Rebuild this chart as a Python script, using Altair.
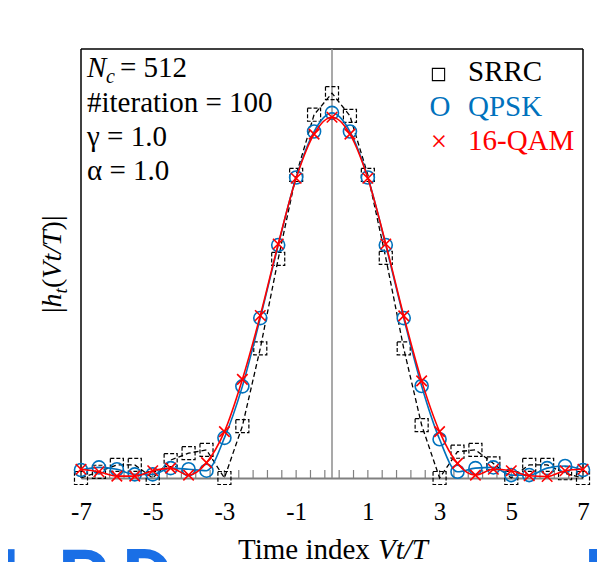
import altair as alt
import pandas as pd

SERIF = "Liberation Serif"
BLUE = "#0072BD"
RED = "#FF0000"

# ---------------- data ----------------
t_index = [-7, -6.5, -6, -5.5, -5, -4.5, -4, -3.5, -3, -2.5, -2, -1.5, -1, -0.5, 0,
           0.5, 1, 1.5, 2, 2.5, 3, 3.5, 4, 4.5, 5, 5.5, 6, 6.5, 7]

srrc = [0.000, 0.017, 0.036, 0.036, 0.000, 0.049, 0.068, 0.077, 0.000, 0.142, 0.355,
        0.600, 0.830, 0.995, 1.054, 0.992, 0.830, 0.603, 0.355, 0.145, 0.000, 0.072,
        0.077, 0.040, 0.000, 0.036, 0.036, 0.013, 0.000]

qpsk = [0.022, 0.029, 0.024, 0.010, 0.010, 0.027, 0.024, 0.020, 0.110, 0.251, 0.438,
        0.638, 0.823, 0.949, 1.000, 0.949, 0.823, 0.638, 0.438, 0.252, 0.106, 0.017,
        0.027, 0.029, 0.008, 0.008, 0.027, 0.033, 0.022]

qam16 = [0.024, 0.017, 0.005, 0.005, 0.020, 0.027, 0.008, 0.042, 0.127, 0.270, 0.445,
         0.641, 0.821, 0.942, 0.988, 0.942, 0.821, 0.641, 0.444, 0.266, 0.127, 0.040,
         0.008, 0.024, 0.020, 0.006, 0.004, 0.020, 0.024]

tick_labels = [-7, -5, -3, -1, 1, 3, 5, 7]
minor_ticks = [-7.0, -6.6, -6.2, -5.8, -5.4, -5.0, -4.6, -4.2, -3.8, -3.4, -3.0, -2.6,
               -2.2, -1.8, -1.4, -1.0, -0.6, -0.2, 0.2, 0.6, 1.0, 1.4, 1.8, 2.2, 2.6,
               3.0, 3.4, 3.8, 4.2, 4.6, 5.0, 5.4, 5.8, 6.2, 6.6, 7.0]

W, H = 502, 429

df_srrc = pd.DataFrame({"t": t_index, "v": srrc})
df_qpsk = pd.DataFrame({"t": t_index, "v": qpsk})
df_qam = pd.DataFrame({"t": t_index, "v": qam16})
df_ticks = pd.DataFrame({"t": minor_ticks})

xscale = alt.Scale(domain=[-7, 7], nice=False, zero=False)
yscale = alt.Scale(domain=[0, 1.175], nice=False, zero=False)

X = alt.X("t:Q", scale=xscale,
          axis=alt.Axis(values=tick_labels, title=None, grid=False, ticks=False,
                        tickSize=0, domainColor="#808080", domainWidth=2,
                        labelFont=SERIF, labelFontSize=25, labelColor="black",
                        labelPadding=21, labelFlush=False,
                        labelExpr="datum.value < 0 ? '-' + abs(datum.value) : '' + datum.value"))
Y = alt.Y("v:Q", scale=yscale, axis=None)

one = alt.InlineData(values=[{"a": 1}])


def txt(text, x, y, size=27, color="black", style="normal", align="left",
        baseline="alphabetic", angle=0, font=SERIF, weight="normal"):
    kw = dict(text=text, align=align, baseline=baseline, font=font, fontSize=size,
              color=color, fontStyle=style, fontWeight=weight)
    if angle:
        kw["angle"] = angle
    return alt.Chart(one).mark_text(**kw).encode(x=alt.value(x), y=alt.value(y))


# frame and helper lines
frame_left = alt.Chart(one).mark_rule(color="black", strokeWidth=1.5).encode(
    x=alt.value(0), y=alt.value(0), y2=alt.value(H))
frame_right = alt.Chart(one).mark_rule(color="black", strokeWidth=1.5).encode(
    x=alt.value(W), y=alt.value(0), y2=alt.value(H))
frame_top = alt.Chart(one).mark_rule(color="black", strokeWidth=1.5).encode(
    x=alt.value(0), x2=alt.value(W), y=alt.value(0))
zero_line = alt.Chart(one).mark_rule(color="#8c8c8c", strokeWidth=1.5).encode(
    x=alt.datum(0, scale=xscale), y=alt.value(0), y2=alt.value(H))
ticks = alt.Chart(df_ticks).mark_rule(color="#808080", strokeWidth=1.2).encode(
    x=alt.X("t:Q", scale=xscale), y=alt.value(H), y2=alt.value(H - 8))

# series
srrc_line = alt.Chart(df_srrc).mark_line(color="black", strokeWidth=1.3,
                                         strokeDash=[5, 3]).encode(x=X, y=Y)
srrc_pts = alt.Chart(df_srrc).mark_point(shape="square", size=170, color="black",
                                         strokeWidth=1.2, strokeDash=[4, 2],
                                         filled=False, opacity=1).encode(x=X, y=Y)
qpsk_line = alt.Chart(df_qpsk).mark_line(color=BLUE, strokeWidth=1.6,
                                         interpolate="monotone").encode(x=X, y=Y)
qpsk_pts = alt.Chart(df_qpsk).mark_point(shape="circle", size=170, color=BLUE,
                                         strokeWidth=1.6, filled=False,
                                         opacity=1).encode(x=X, y=Y)
qam_line = alt.Chart(df_qam).mark_line(color=RED, strokeWidth=1.6,
                                       interpolate="monotone").encode(x=X, y=Y)
qam_pts = alt.Chart(df_qam).mark_point(shape="M-1,-1L1,1M-1,1L1,-1", size=110,
                                       color=RED, strokeWidth=1.6, filled=False,
                                       opacity=1).encode(x=X, y=Y)

# legend (in-plot)
leg_sq = alt.Chart(one).mark_point(shape="square", size=150, color="black",
                                   strokeWidth=1.1, filled=False, opacity=1).encode(
    x=alt.value(357.5), y=alt.value(25.5))
legend = [
    leg_sq,
    txt("SRRC", 387, 32, size=29),
    txt("O", 359, 67, size=29, color=BLUE, align="center"),
    txt("QPSK", 387, 67, size=29, color=BLUE),
    txt("\u00d7", 358, 102, size=29, color=RED, align="center"),
    txt("16-QAM", 387, 101, size=29, color=RED),
]

# parameter annotation
annot = [
    txt("N", 6, 28, size=29, style="italic"),
    txt("c", 25, 34, size=20, style="italic"),
    txt("= 512", 39, 28, size=29),
    txt("#iteration = 100", 6, 63, size=29),
    txt("\u03b3 = 1.0", 6, 97, size=29),
    txt("\u03b1 = 1.0", 6, 131, size=29),
]

# axis titles built from pieces
xtitle = [
    txt("Time index", 157, 510, size=29),
    txt("Vt/T", 297, 510, size=29, style="italic"),
]
ytitle = [
    txt("|", -20, 264, size=28, angle=270),
    txt("h", -20, 258.4, size=28, angle=270, style="italic"),
    txt("t", -14, 244.4, size=19, angle=270, style="italic"),
    txt("(", -20, 239, size=28, angle=270),
    txt("Vt/T", -20, 229.7, size=28, angle=270, style="italic"),
    txt(")|", -20, 181.4, size=28, angle=270),
]

# blue fragment at the bottom edge (page x - 81 = view x)
FRAG = "#1a6fe6"
frag = [
    txt("I", -84, 557, size=80, color=FRAG, font="Roboto", weight="bold"),
    txt("P", -23, 557, size=80, color=FRAG, font="Roboto", weight="bold"),
    txt("D", 41, 557, size=80, color=FRAG, font="Roboto", weight="bold"),
    txt("B", 503, 557, size=80, color=FRAG, font="Roboto", weight="bold"),
]

chart = alt.layer(
    frame_left, frame_right, frame_top, zero_line, ticks,
    srrc_line, srrc_pts, qpsk_line, qpsk_pts, qam_line, qam_pts,
    *legend, *annot, *xtitle, *ytitle, *frag,
).properties(
    width=W, height=H,
    autosize=alt.AutoSizeParams(type="none"),
    padding={"left": 73, "top": 41, "right": 14, "bottom": 100},
).configure_view(strokeWidth=0)

chart.save("out.html", embed_options={"renderer": "svg", "actions": False})
